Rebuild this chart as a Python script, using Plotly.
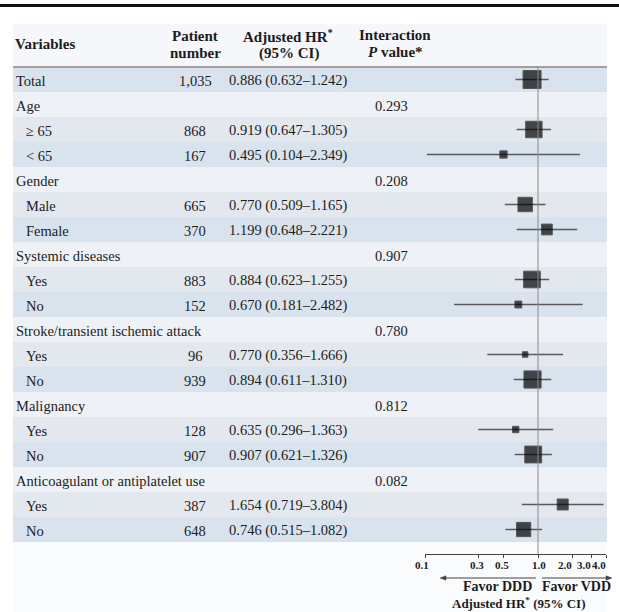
import math
import plotly.graph_objects as go

# ---------------- data ----------------
variables = ["Total", "Age", "≥ 65", "< 65", "Gender", "Male", "Female",
             "Systemic diseases", "Yes", "No",
             "Stroke/transient ischemic attack", "Yes", "No",
             "Malignancy", "Yes", "No",
             "Anticoagulant or antiplatelet use", "Yes", "No"]
row_kind = ["total", "group", "sub1", "sub2", "group", "sub1", "sub2",
            "group", "sub1", "sub2", "group", "sub1", "sub2",
            "group", "sub1", "sub2", "group", "sub1", "sub2"]
patients = [1035, None, 868, 167, None, 665, 370, None, 883, 152,
            None, 96, 939, None, 128, 907, None, 387, 648]
hr = [0.886, None, 0.919, 0.495, None, 0.770, 1.199, None, 0.884, 0.670,
      None, 0.770, 0.894, None, 0.635, 0.907, None, 1.654, 0.746]
ci_low = [0.632, None, 0.647, 0.104, None, 0.509, 0.648, None, 0.623, 0.181,
          None, 0.356, 0.611, None, 0.296, 0.621, None, 0.719, 0.515]
ci_high = [1.242, None, 1.305, 2.349, None, 1.165, 2.221, None, 1.255, 2.482,
           None, 1.666, 1.310, None, 1.363, 1.326, None, 3.804, 1.082]
p_interaction = ["", "0.293", "", "", "0.208", "", "", "0.907", "", "",
                 "0.780", "", "", "0.812", "", "", "0.082", "", ""]
tick_values = [0.1, 0.3, 0.5, 1.0, 2.0, 3.0, 4.0]
tick_labels = ["0.1", "0.3", "0.5", "1.0", "2.0", "3.0", "4.0"]
tick_label_shift = [-3, -2, -2, 1, -7, -8, -7]   # px nudges used in the original to avoid overlap

# ---------------- geometry / style ----------------
W, H = 619, 612
ROW0 = 79.5   # pixel centre of first row
ROWH = 25.0
PANEL_L, PANEL_R = 13, 607
AXIS_Y = 554

def px(x):
    return x / W

def py(y):
    return 1 - y / H

def yi(pix):
    return (pix - ROW0) / ROWH

FONT = "Liberation Serif"
TXT = "#1c1c1c"
colors = {"total": "#d9e3ee", "group": "#eef2f7",
          "sub1": "#e3e8ef", "sub2": "#d8e3ee"}

fig = go.Figure()

# CI lines
lx, ly = [], []
for i, (lo, hi) in enumerate(zip(ci_low, ci_high)):
    if lo is None:
        continue
    lx += [lo, hi, None]
    ly += [i, i, None]
fig.add_trace(go.Scatter(x=lx, y=ly, mode="lines",
                         line=dict(color="#5a5a5a", width=1.4),
                         hoverinfo="skip", showlegend=False))

# squares
mx, my, ms = [], [], []
for i, (h, n) in enumerate(zip(hr, patients)):
    if h is None:
        continue
    mx.append(h)
    my.append(i)
    ms.append(18 * math.sqrt(n / patients[0]))
fig.add_trace(go.Scatter(x=mx, y=my, mode="markers",
                         marker=dict(symbol="square", size=ms, color="#000000",
                                     line=dict(color="#1a1a1a", width=1)),
                         showlegend=False))

shapes = []
# top thick line
shapes.append(dict(type="line", xref="paper", yref="paper", x0=0, x1=1,
                   y0=py(5.5), y1=py(5.5), line=dict(color="#111", width=3)))
# panel background
shapes.append(dict(type="rect", xref="paper", yref="paper", x0=px(PANEL_L), x1=px(PANEL_R),
                   y0=0, y1=py(24), fillcolor="#fafbfd", line=dict(width=0), layer="below"))
# header background
shapes.append(dict(type="rect", xref="paper", yref="paper", x0=px(PANEL_L), x1=px(PANEL_R),
                   y0=py(67), y1=py(24), fillcolor="#f5f7fa", line=dict(width=0), layer="below"))
# row backgrounds
for i, k in enumerate(row_kind):
    shapes.append(dict(type="rect", xref="paper", yref="y", x0=px(PANEL_L), x1=px(PANEL_R),
                       y0=i - 0.5, y1=i + 0.5, fillcolor=colors[k],
                       line=dict(width=0), layer="below"))
# header bottom rule
shapes.append(dict(type="line", xref="paper", yref="y", x0=px(PANEL_L), x1=px(PANEL_R),
                   y0=-0.5, y1=-0.5, line=dict(color="#8e8582", width=1.5)))
# reference line at HR = 1
shapes.append(dict(type="line", xref="x", yref="y", x0=1, x1=1,
                   y0=-0.5, y1=yi(AXIS_Y), line=dict(color="#8a8a8a", width=1)))

# favor arrows (line + small arrowhead)
ARROW_Y = 578
AC = "#444444"
for xa, xb in ((442, 536), (542, 610)):
    shapes.append(dict(type="line", xref="paper", yref="paper", x0=px(xa), x1=px(xb),
                       y0=py(ARROW_Y), y1=py(ARROW_Y), line=dict(color=AC, width=1.2)))
shapes.append(dict(type="path", xref="paper", yref="paper",
                   path=f"M {px(440)} {py(ARROW_Y)} L {px(446)} {py(ARROW_Y - 2.2)} "
                        f"L {px(446)} {py(ARROW_Y + 2.2)} Z",
                   fillcolor=AC, line=dict(color=AC, width=0.5)))
shapes.append(dict(type="path", xref="paper", yref="paper",
                   path=f"M {px(612)} {py(ARROW_Y)} L {px(606)} {py(ARROW_Y - 2.2)} "
                        f"L {px(606)} {py(ARROW_Y + 2.2)} Z",
                   fillcolor=AC, line=dict(color=AC, width=0.5)))

annotations = []

def add_text(text, x, y, yref="y", xanchor="left", size=14.5, bold=False):
    annotations.append(dict(text=f"<b>{text}</b>" if bold else text,
                            x=x, y=y, xref="paper", yref=yref,
                            xanchor=xanchor, yanchor="middle", showarrow=False,
                            borderpad=0,
                            font=dict(family=FONT, size=size, color=TXT)))

# header
add_text("Variables", px(14), py(44), yref="paper", size=15, bold=True)
add_text("Patient", px(195), py(36), yref="paper", xanchor="center", size=15, bold=True)
add_text("number", px(195), py(53), yref="paper", xanchor="center", size=15, bold=True)
add_text("Adjusted HR<sup>*</sup>", px(288), py(36), yref="paper", xanchor="center", size=15, bold=True)
add_text("(95% CI)", px(289), py(53), yref="paper", xanchor="center", size=15, bold=True)
add_text("Interaction", px(395), py(35), yref="paper", xanchor="center", size=15, bold=True)
add_text("<i>P</i> value*", px(395), py(52), yref="paper", xanchor="center", size=15, bold=True)

# body
for i in range(len(variables)):
    xl = 15 if row_kind[i] in ("total", "group") else 25
    add_text(variables[i], px(xl), i + 0.05)
    if patients[i] is not None:
        add_text(f"{patients[i]:,}", px(195), i + 0.05, xanchor="center")
        add_text(f"{hr[i]:.3f} ({ci_low[i]:.3f}–{ci_high[i]:.3f})", px(228), i + 0.05)
    if p_interaction[i]:
        add_text(p_interaction[i], px(391), i + 0.05, xanchor="center")

# tick labels placed on the log axis (nudged like the original)
for v, lab, sh in zip(tick_values, tick_labels, tick_label_shift):
    annotations.append(dict(text=f"<b>{lab}</b>", x=math.log10(v), y=py(565),
                            xref="x", yref="paper", xanchor="center", yanchor="middle",
                            xshift=sh, showarrow=False, borderpad=0,
                            font=dict(family=FONT, size=11, color=TXT)))

add_text("Favor DDD", px(497), py(586), yref="paper", xanchor="center", size=14, bold=True)
add_text("Favor VDD", px(576), py(586), yref="paper", xanchor="center", size=14, bold=True)
add_text("Adjusted HR<sup>*</sup> (95% CI)", px(518), py(603), yref="paper",
         xanchor="center", size=13, bold=True)

x_lo, x_hi = -1.0, math.log10(4.0) + 0.002
decade = 113.0
fig.update_layout(
    width=W, height=H,
    margin=dict(l=0, r=0, t=0, b=0),
    paper_bgcolor="white", plot_bgcolor="rgba(0,0,0,0)",
    showlegend=False,
    shapes=shapes, annotations=annotations,
    xaxis=dict(type="log", range=[x_lo, x_hi],
               domain=[px(425), px(425 + (x_hi - x_lo) * decade)],
               anchor="free", position=py(AXIS_Y),
               tickvals=tick_values, showticklabels=False,
               ticks="outside", ticklen=3, tickwidth=1.2, tickcolor="#444",
               showline=True, linecolor="#444", linewidth=1.4,
               showgrid=False, zeroline=False),
    yaxis=dict(range=[yi(H), yi(0)], domain=[0, 1], visible=False,
               showgrid=False, zeroline=False),
)

fig.write_html("out.html",
               config={"displayModeBar": False},
               post_script="document.body.style.margin='0';"
                           "document.body.style.overflow='hidden';")
